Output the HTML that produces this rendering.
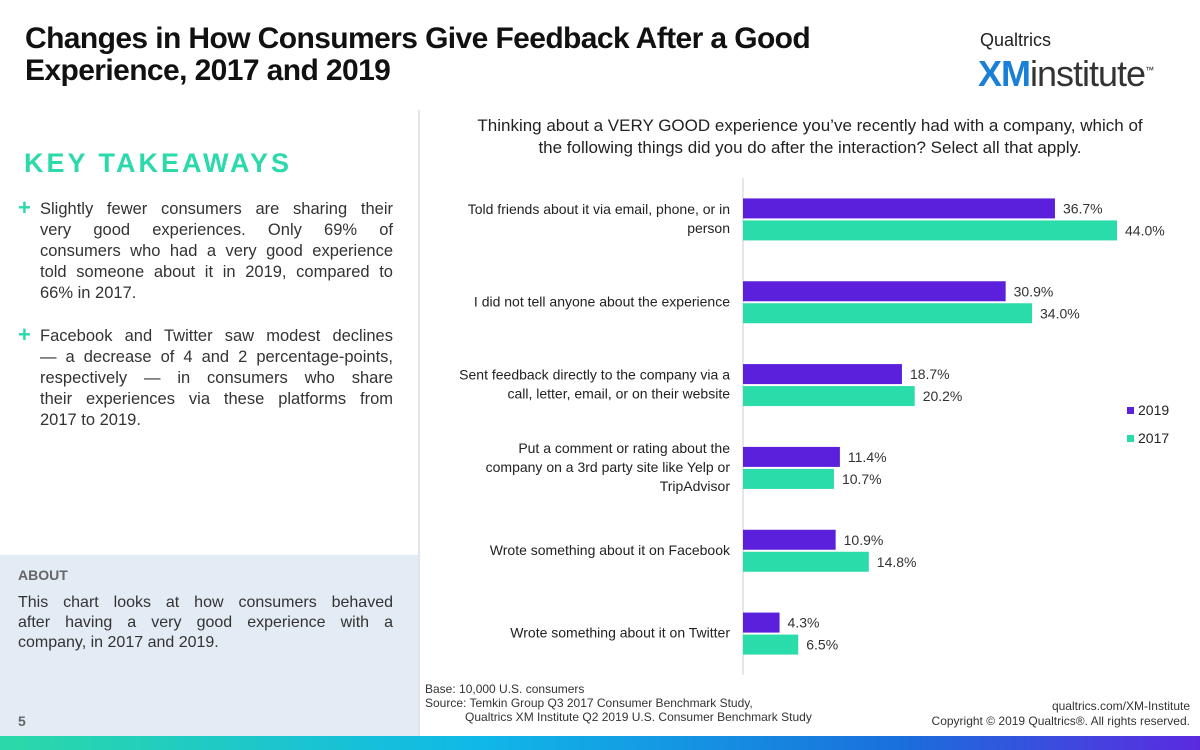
<!DOCTYPE html>
<html><head><meta charset="utf-8">
<style>
body{margin:0;width:1200px;height:750px;position:relative;overflow:hidden;background:#fff;font-family:"Liberation Sans",sans-serif;color:#222}
.abs{position:absolute}
#title{left:25px;top:23px;font-size:30px;font-weight:bold;line-height:32px;color:#111;letter-spacing:-0.6px}
.kt{left:24px;top:148px;font-size:27px;font-weight:bold;color:#2bd9ab;letter-spacing:3px}
.bul{left:40px;width:353px;font-size:16.5px;line-height:21px;color:#333}
.bul div,.abt div{text-align:justify;text-align-last:justify;white-space:nowrap}
.bul div.last,.abt div.last{text-align-last:left}
.plus{left:18px;font-size:22px;color:#2bd9ab;font-weight:bold}
#about{left:0;top:555px;width:418px;height:181px;background:#e3ebf4}
.lbl{font-size:14px;fill:#222}
.val{font-size:14px;fill:#333}
</style></head><body>
<div id="title" class="abs">Changes in How Consumers Give Feedback After a Good<br>Experience, 2017 and 2019</div>
<div class="abs" style="left:980px;top:30px;font-size:18px;color:#222">Qualtrics</div>
<div class="abs" style="left:978px;top:50px;font-size:36px;line-height:40px;letter-spacing:-1px"><b style="color:#1a7fd6">XM</b><span style="color:#333">institute</span><sup style="font-size:9px">™</sup></div>
<div class="abs" style="left:418px;top:110px;width:2px;height:626px;background:#e2e6ea"></div>
<div class="abs kt">KEY TAKEAWAYS</div>
<div class="abs plus" style="top:195px">+</div>
<div class="abs bul" style="top:199px"><div>Slightly fewer consumers are sharing their</div><div>very good experiences. Only 69% of</div><div>consumers who had a very good experience</div><div>told someone about it in 2019, compared to</div><div class="last">66% in 2017.</div></div>
<div class="abs plus" style="top:322px">+</div>
<div class="abs bul" style="top:326px"><div>Facebook and Twitter saw modest declines</div><div>— a decrease of 4 and 2 percentage-points,</div><div>respectively — in consumers who share</div><div>their experiences via these platforms from</div><div class="last">2017 to 2019.</div></div>
<div id="about" class="abs">
<div class="abs" style="left:18px;top:12px;font-size:14px;font-weight:bold;color:#666">ABOUT</div>
<div class="abs abt" style="left:18px;top:38px;width:375px;font-size:16px;line-height:20px;color:#333"><div>This chart looks at how consumers behaved</div><div>after having a very good experience with a</div><div class="last">company, in 2017 and 2019.</div></div>
<div class="abs" style="left:18px;top:158px;font-size:14px;font-weight:bold;color:#666">5</div>
</div>
<div class="abs" style="left:0;top:736px;width:1200px;height:14px;background:linear-gradient(90deg,#2bd9a8,#10b8e8 40%,#1a6fdc 75%,#5b2ae0)"></div>
<div class="abs" style="left:430px;top:115px;width:760px;text-align:center;font-size:17px;line-height:22px;color:#222">Thinking about a VERY GOOD experience you’ve recently had with a company, which of<br>the following things did you do after the interaction? Select all that apply.</div>
<div class="abs" style="left:425px;top:682px;font-size:12px;line-height:14px;color:#333">Base: 10,000 U.S. consumers<br>Source: Temkin Group Q3 2017 Consumer Benchmark Study,<br>&nbsp;&nbsp;&nbsp;&nbsp;&nbsp;&nbsp;&nbsp;&nbsp;&nbsp;&nbsp;&nbsp;&nbsp;Qualtrics XM Institute Q2 2019 U.S. Consumer Benchmark Study</div>
<div class="abs" style="right:10px;top:699px;font-size:12px;line-height:15px;text-align:right;color:#333">qualtrics.com/XM-Institute<br>Copyright © 2019 Qualtrics®. All rights reserved.</div>
<svg id="chart" class="abs" style="left:0;top:0" width="1200" height="750"></svg>
<script>
const categories=[["Told friends about it via email, phone, or in","person"],["I did not tell anyone about the experience"],["Sent feedback directly to the company via a","call, letter, email, or on their website"],["Put a comment or rating about the","company on a 3rd party site like Yelp or","TripAdvisor"],["Wrote something about it on Facebook"],["Wrote something about it on Twitter"]];
const values2019=[36.7,30.9,18.7,11.4,10.9,4.3];
const values2017=[44.0,34.0,20.2,10.7,14.8,6.5];
const seriesNames=["2019","2017"];
const colors=["#5b20dc","#2bdcab"];
const svg=document.getElementById('chart');const NS="http://www.w3.org/2000/svg";
const x0=743,y0=178,y1=675,pxPer=8.5;
const x=v=>x0+v*pxPer;
const band=(y1-y0)/categories.length;
function mk(t,a){const e=document.createElementNS(NS,t);for(const k in a)e.setAttribute(k,a[k]);svg.appendChild(e);return e;}
const ax=mk('line',{x1:x0,x2:x0,y1:y0,y2:y1,stroke:'#ccc','stroke-width':1});


categories.forEach((c,i)=>{
 const cy=y0+band*(i+0.5);
 [values2019[i],values2017[i]].forEach((v,s)=>{
  const by=cy-21+s*22;
  const r=mk('rect',{x:x0,y:by,width:x(v)-x0,height:20,fill:colors[s]});
  
  
  const t=mk('text',{x:x(v)+8,y:by+15,class:'val'});t.textContent=v.toFixed(1)+'%';
  
  
 });
 const n=c.length;
 c.forEach((line,j)=>{
  const t=mk('text',{x:730,y:cy+5+(j-(n-1)/2)*19-1,'text-anchor':'end',class:'lbl'});t.textContent=line;
  
  
 });
});
seriesNames.forEach((nm,s)=>{
 const ly=411+s*28;
 const r=mk('rect',{x:1127,y:ly-4,width:7,height:7,fill:colors[s]});
 
 
 const t=mk('text',{x:1138,y:ly+4,class:'lbl'});t.textContent=nm;
 
 
});
</script>
</body></html>
